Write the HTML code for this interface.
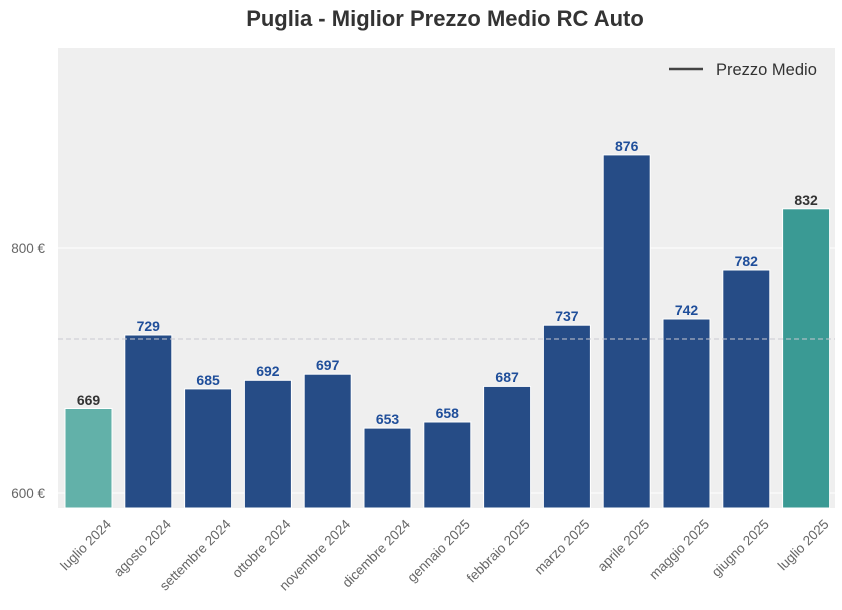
<!DOCTYPE html>
<html><head><meta charset="utf-8"><style>body{margin:0;background:#fff}svg{display:block}</style></head><body>
<svg width="842" height="610" xmlns="http://www.w3.org/2000/svg" font-family="Liberation Sans, sans-serif">
<rect width="842" height="610" fill="#fff"/>
<text x="445" y="26" text-anchor="middle" font-size="22" font-weight="bold" fill="#333">Puglia - Miglior Prezzo Medio RC Auto</text>
<rect x="58" y="48" width="777" height="460" fill="#efefef"/>
<line x1="58" y1="248" x2="835" y2="248" stroke="#fff" stroke-width="1"/>
<line x1="58" y1="493" x2="835" y2="493" stroke="#fff" stroke-width="1"/>
<text x="45" y="253" text-anchor="end" font-size="13.5" fill="#666">800 €</text>
<text x="45" y="498" text-anchor="end" font-size="13.5" fill="#666">600 €</text>
<g stroke="#fff" stroke-width="1">
<rect x="65" y="408.5" width="47" height="99.5" fill="#62b1a9"/>
<rect x="124.8" y="335" width="47" height="173" fill="#264c86"/>
<rect x="184.6" y="388.9" width="47" height="119.1" fill="#264c86"/>
<rect x="244.4" y="380.3" width="47" height="127.7" fill="#264c86"/>
<rect x="304.2" y="374.2" width="47" height="133.8" fill="#264c86"/>
<rect x="364" y="428.1" width="47" height="79.9" fill="#264c86"/>
<rect x="423.8" y="422" width="47" height="86" fill="#264c86"/>
<rect x="483.6" y="386.4" width="47" height="121.6" fill="#264c86"/>
<rect x="543.4" y="325.2" width="47" height="182.8" fill="#264c86"/>
<rect x="603.2" y="154.9" width="47" height="353.1" fill="#264c86"/>
<rect x="663" y="319" width="47" height="189" fill="#264c86"/>
<rect x="722.8" y="270" width="47" height="238" fill="#264c86"/>
<rect x="782.6" y="208.8" width="47" height="299.2" fill="#3a9a94"/>
</g>
<g font-size="14" font-weight="bold" text-anchor="middle" fill="#1f4e9a">
<text x="88.5" y="405" fill="#333">669</text>
<text x="148.3" y="331">729</text>
<text x="208.1" y="385">685</text>
<text x="267.9" y="376">692</text>
<text x="327.7" y="370">697</text>
<text x="387.5" y="424">653</text>
<text x="447.3" y="418">658</text>
<text x="507.1" y="382">687</text>
<text x="566.9" y="321">737</text>
<text x="626.7" y="151">876</text>
<text x="686.5" y="315">742</text>
<text x="746.3" y="266">782</text>
<text x="806.1" y="205" fill="#333">832</text>
</g>
<g font-size="13.5" fill="#666" text-anchor="end">
<text transform="translate(112,525) rotate(-45)">luglio 2024</text>
<text transform="translate(171.8,525) rotate(-45)">agosto 2024</text>
<text transform="translate(231.6,525) rotate(-45)">settembre 2024</text>
<text transform="translate(291.4,525) rotate(-45)">ottobre 2024</text>
<text transform="translate(351.2,525) rotate(-45)">novembre 2024</text>
<text transform="translate(411,525) rotate(-45)">dicembre 2024</text>
<text transform="translate(470.8,525) rotate(-45)">gennaio 2025</text>
<text transform="translate(530.6,525) rotate(-45)">febbraio 2025</text>
<text transform="translate(590.4,525) rotate(-45)">marzo 2025</text>
<text transform="translate(650.2,525) rotate(-45)">aprile 2025</text>
<text transform="translate(710,525) rotate(-45)">maggio 2025</text>
<text transform="translate(769.8,525) rotate(-45)">giugno 2025</text>
<text transform="translate(829.6,525) rotate(-45)">luglio 2025</text>
</g>
<line x1="58" y1="339" x2="835" y2="339" stroke="#c8c8d0" stroke-width="1" stroke-dasharray="5,3"/>
<line x1="669" y1="69" x2="703" y2="69" stroke="#444" stroke-width="2.5"/>
<text x="716" y="75" font-size="16.5" fill="#333">Prezzo Medio</text>
</svg>
</body></html>
